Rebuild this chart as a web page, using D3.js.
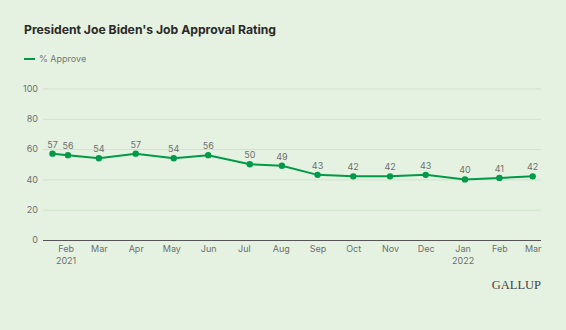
<!DOCTYPE html>
<html>
<head>
<meta charset="utf-8">
<script src="https://cdn.jsdelivr.net/npm/d3@7"></script>
<style>
  body { margin: 0; background: #e5f2e1; }
  svg { display: block; font-family: Inter, "Noto Sans", sans-serif; }
</style>
</head>
<body>
<svg id="chart" width="566" height="330"></svg>
<script>
// poll start dates and % approve
const pollDates = ["2021-01-21", "2021-02-03", "2021-03-01", "2021-04-01", "2021-05-03", "2021-06-01",
  "2021-07-06", "2021-08-02", "2021-09-01", "2021-10-01", "2021-11-01", "2021-12-01",
  "2022-01-03", "2022-02-01", "2022-03-01"];
const approve = [57, 56, 54, 57, 54, 56, 50, 49, 43, 42, 42, 43, 40, 41, 42];
const yTicks = [0, 20, 40, 60, 80, 100];
const monthTicks = ["2021-02-01", "2021-03-01", "2021-04-01", "2021-05-01", "2021-06-01", "2021-07-01",
  "2021-08-01", "2021-09-01", "2021-10-01", "2021-11-01", "2021-12-01", "2022-01-01",
  "2022-02-01", "2022-03-01"];

const parse = d3.utcParse("%Y-%m-%d");
const data = pollDates.map((d, i) => ({ date: parse(d), value: approve[i] }));

const svg = d3.select("#chart");
const green = "#009a48";
const grey = "#6e6e6e";
const font = "Inter, 'Noto Sans', sans-serif";

// background
svg.append("rect").attr("width", 566).attr("height", 330).attr("fill", "#e5f2e1");

// title
svg.append("text")
  .attr("x", 24).attr("y", 34)
  .attr("font-size", 12.2).attr("font-weight", 700)
  .attr("fill", "#2a2a2a")
  .text("President Joe Biden's Job Approval Rating");

// legend
svg.append("line")
  .attr("x1", 24).attr("x2", 35).attr("y1", 59).attr("y2", 59)
  .attr("stroke", green).attr("stroke-width", 2);
svg.append("text")
  .attr("x", 39).attr("y", 62)
  .attr("font-size", 9).attr("fill", "#777")
  .text("% Approve");

const x = d3.scaleUtc()
  .domain([parse("2021-01-13"), parse("2022-03-08")])
  .range([43, 541]);
const y = d3.scaleLinear().domain([0, 100]).range([240, 88.5]);

// gridlines + y labels
const yAxis = d3.axisLeft(y).tickValues(yTicks).tickSize(-(541 - 43)).tickPadding(5);
const gy = svg.append("g").attr("transform", "translate(43,0)").call(yAxis);
gy.select(".domain").remove();
gy.selectAll(".tick line").attr("stroke", "#d0e2cb").attr("stroke-width", 1);
gy.selectAll(".tick text").attr("font-size", 9).attr("fill", grey).attr("font-family", font);
gy.selectAll(".tick").filter(d => d === 0).select("line").attr("stroke", "#555").attr("stroke-width", 1.2);

// x axis labels
const xAxis = d3.axisBottom(x).tickValues(monthTicks.map(parse)).tickSize(0).tickPadding(6)
  .tickFormat(d3.utcFormat("%b"));
const gx = svg.append("g").attr("transform", "translate(0,240)").call(xAxis);
gx.select(".domain").remove();
gx.selectAll(".tick text").attr("font-size", 9).attr("fill", grey).attr("font-family", font);
// year under the first Feb and under Jan
gx.selectAll(".tick")
  .filter((d, i) => i === 0 || d.getUTCMonth() === 0)
  .append("text").attr("y", 24).attr("fill", grey).attr("font-size", 9)
  .attr("font-family", font)
  .text(d => d.getUTCFullYear());

// line
const line = d3.line().x(d => x(d.date)).y(d => y(d.value));
svg.append("path")
  .datum(data)
  .attr("d", line)
  .attr("fill", "none")
  .attr("stroke", green)
  .attr("stroke-width", 2);

// points
svg.selectAll("circle.pt").data(data).join("circle")
  .attr("class", "pt")
  .attr("cx", d => x(d.date)).attr("cy", d => y(d.value))
  .attr("r", 3.2).attr("fill", green);

// value labels
svg.selectAll("text.val").data(data).join("text")
  .attr("class", "val")
  .attr("x", d => x(d.date)).attr("y", d => y(d.value) - 6)
  .attr("text-anchor", "middle")
  .attr("font-size", 9).attr("fill", grey)
  .text(d => d.value);

// logo
svg.append("text")
  .attr("x", 541).attr("y", 289)
  .attr("text-anchor", "end")
  .attr("font-family", "'Liberation Serif', 'DejaVu Serif', serif")
  .attr("font-size", 12.5).attr("fill", "#444")
  .text("GALLUP");
</script>
</body>
</html>
